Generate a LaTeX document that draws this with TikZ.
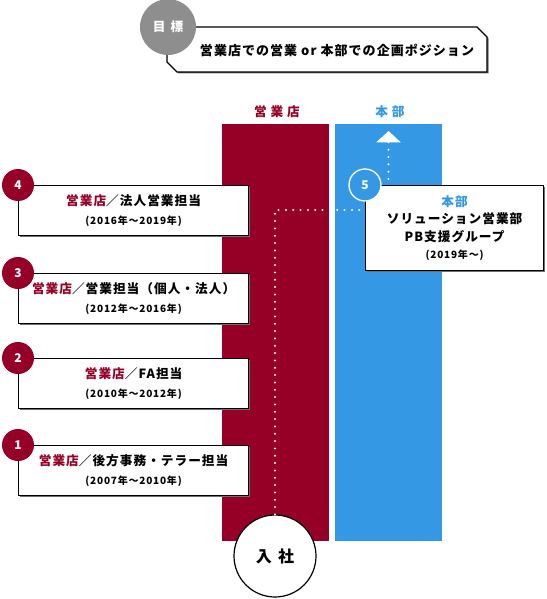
\documentclass[tikz,border=0pt]{standalone}
\usepackage{fontspec}
\setmainfont{Noto Sans CJK JP}
\newfontfamily\jpsp{Noto Sans CJK JP}[LetterSpace=8]
\newfontfamily\jpwide{Noto Sans CJK JP}[LetterSpace=30]
\newcommand{\yearsfont}{\fontsize{7.5}{9}\selectfont}
\usetikzlibrary{arrows.meta,positioning,shadows}
\definecolor{shopred}{HTML}{960026}
\definecolor{hqblue}{HTML}{3598E4}
\definecolor{goalgray}{HTML}{8E8E8E}
\definecolor{edgegray}{HTML}{6E6E6E}

\begin{document}
\begin{tikzpicture}[x=0.75pt,y=-0.75pt,
    every node/.style={font=\bfseries},
    careerbox/.style={draw=black, fill=white, line width=0.9pt, anchor=north west,
      minimum width=172.5pt, minimum height=37.5pt, align=center, inner sep=0pt,
      font=\jpsp\bfseries\fontsize{9.5}{14}\selectfont,
      drop shadow={shadow xshift=1.2pt, shadow yshift=-1.2pt, fill=edgegray, opacity=1}},
    badge/.style={circle, fill=shopred, text=white, minimum size=24pt, inner sep=0pt,
      font=\bfseries\fontsize{9}{9}\selectfont},
    column/.style={anchor=north west, minimum width=80.25pt, minimum height=312.75pt, inner sep=0pt},
    collabel/.style={font=\jpwide\bfseries\fontsize{9.5}{10}\selectfont},
    dots/.style={white, line width=1.7pt, line cap=round, dash pattern=on 0pt off 5.5pt}
  ]
  \useasboundingbox (0,0) rectangle (546,599);

  % goal
  \fill[edgegray] (168.5,28.5) -- (478.5,28.5) -- (488.5,38.5) -- (488.5,73.5) -- (178.5,73.5) -- (168.5,63.5) -- cycle;
  \draw[fill=white, line width=0.9pt] (167,27) -- (477,27) -- (487,37) -- (487,72) -- (177,72) -- (167,62) -- cycle;
  \node[circle, fill=goalgray, text=white, minimum size=42pt, inner sep=0pt,
    font=\bfseries\fontsize{9.5}{10}\selectfont] (goal) at (168,27) {目\hspace{0.4em}標};
  \node[font=\jpsp\bfseries\fontsize{9.75}{10}\selectfont] (goaltext) at (337,50) {営業店での営業 or 本部での企画ポジション};

  % columns
  \node[column, fill=shopred] (shop) at (222,124) {};
  \node[column, fill=hqblue] (hq) at (335,124) {};
  \node[collabel, text=shopred] (shoplbl) at (277,112) {営業店};
  \node[collabel, text=hqblue] (hqlbl) at (390,112) {本部};

  % career steps
  \node[careerbox] (c4) at (18,185) {{\color{shopred}営業店}／法人営業担当\\{\yearsfont(2016年～2019年)}};
  \node[careerbox] (c3) at (18,273) {{\color{shopred}営業店}／営業担当（個人・法人）\\{\yearsfont(2012年～2016年)}};
  \node[careerbox] (c2) at (18,358) {{\color{shopred}営業店}／FA担当\\{\yearsfont(2010年～2012年)}};
  \node[careerbox] (c1) at (18,445) {{\color{shopred}営業店}／後方事務・テラー担当\\{\yearsfont(2007年～2010年)}};
  \node[careerbox, minimum width=133.5pt, minimum height=63.75pt, font=\jpsp\bfseries\fontsize{9.5}{13}\selectfont]
    (c5) at (365,185) {{\color{hqblue}本部}\\ソリューション営業部\\PB支援グループ\\{\yearsfont(2019年～)}};

  \node[badge] at (c4.north west) {4};
  \node[badge] at (c3.north west) {3};
  \node[badge] at (c2.north west) {2};
  \node[badge] at (c1.north west) {1};
  \node[badge, fill=hqblue, draw=white, line width=1pt] at (c5.north west) {5};

  % join
  \node[circle, draw, fill=white, minimum size=61.5pt, line width=0.9pt,
    font=\bfseries\fontsize{12}{12}\selectfont] (join) at (275,556) {入\hspace{0.4em}社};

  % path
  \coordinate (turn) at (275,210);
  \coordinate (hqfoot) at (388.5,179);
  \coordinate (hqtip) at (388.5,131);
  \draw[dots] (join.north) -- (turn) -- (turn -| c5.west);
  \draw[dots, -{Triangle[width=18pt, length=8.5pt]}] (hqfoot) -- (hqtip);
\end{tikzpicture}
\end{document}
